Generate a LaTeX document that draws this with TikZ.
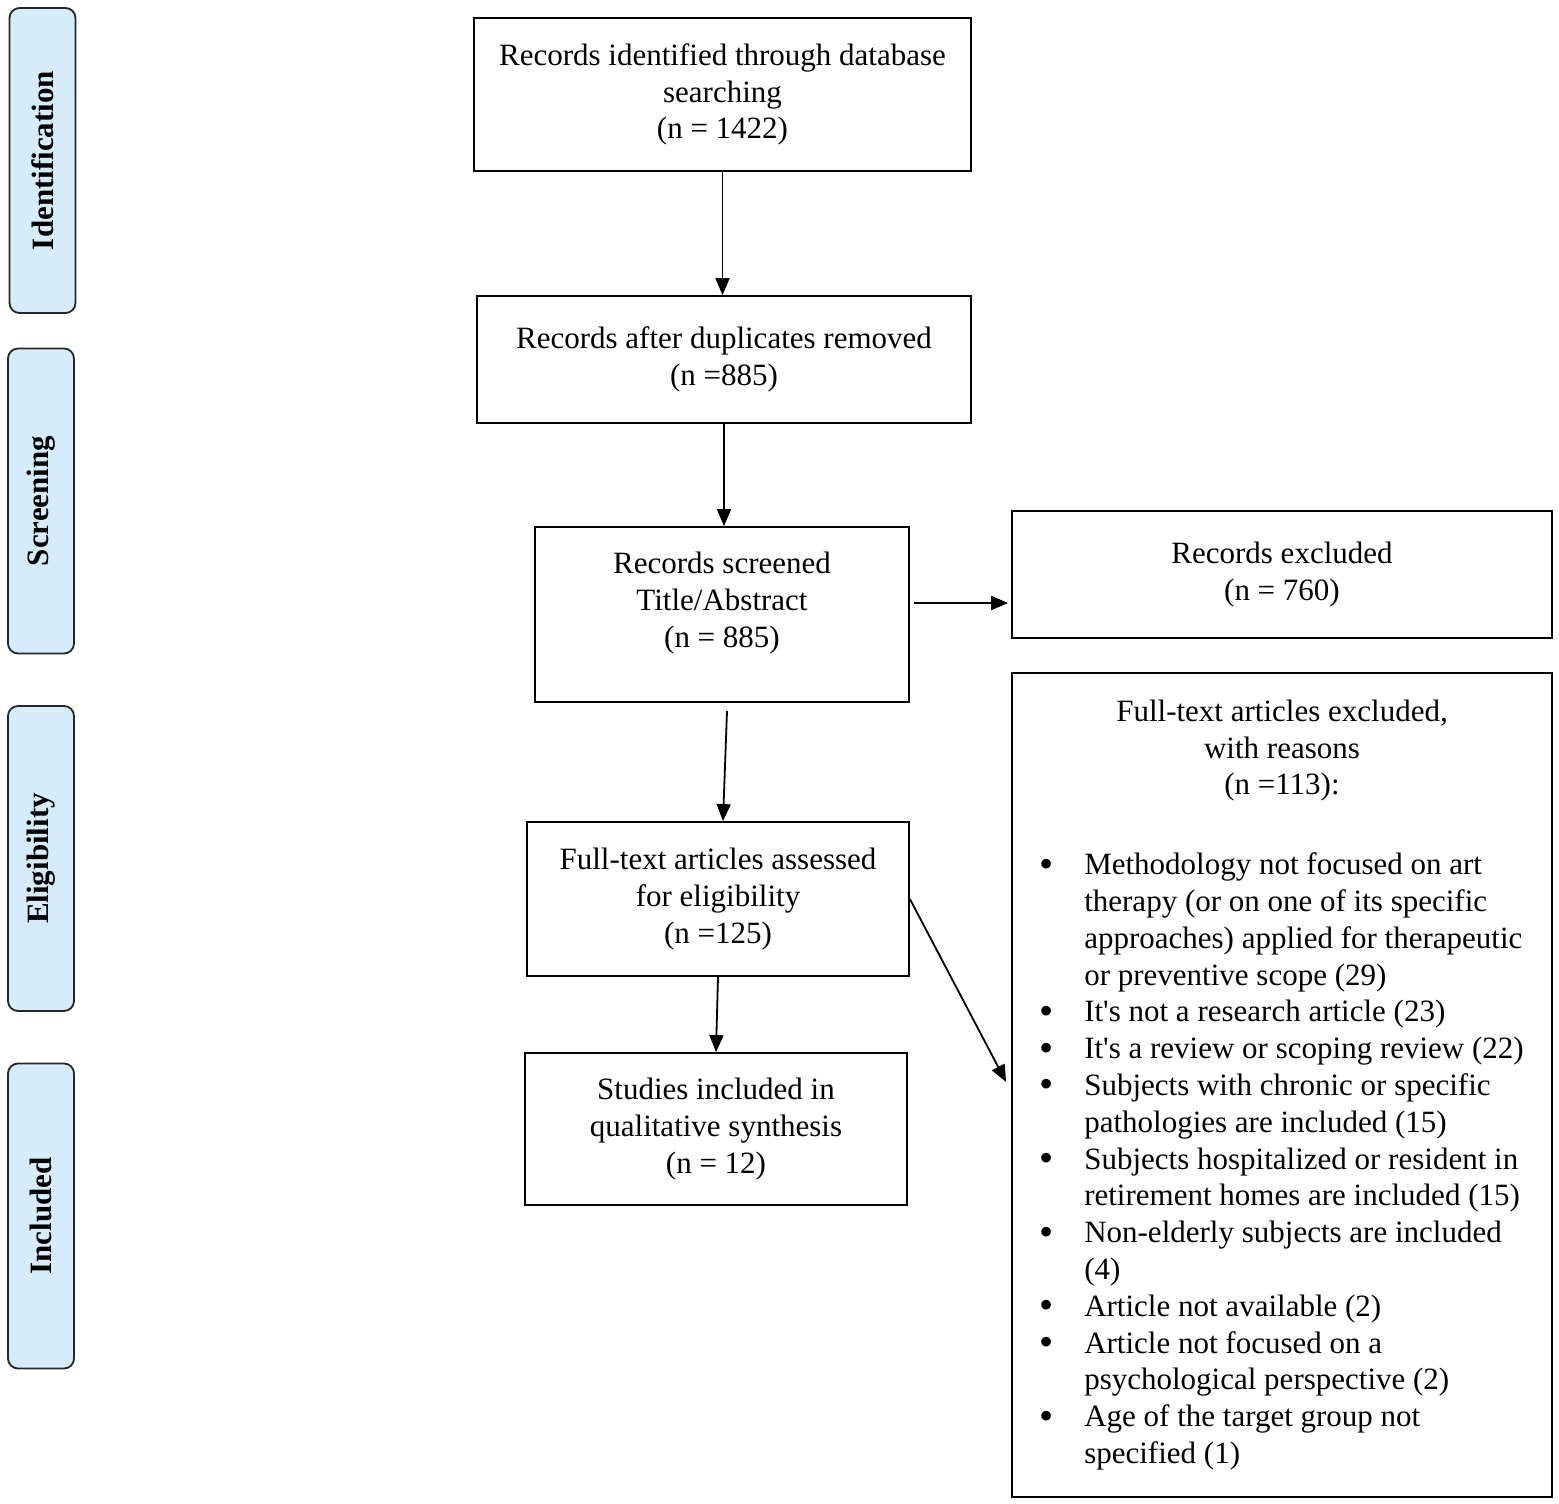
\documentclass[tikz,border=0pt]{standalone}
\usepackage{fontspec}
\setmainfont{Liberation Serif}
\usetikzlibrary{arrows.meta}
\definecolor{phaseblue}{RGB}{214,236,251}
\newcommand{\bul}{\hspace*{5pt}\raisebox{-2.5pt}{\scalebox{1.3}{\textbullet}}}
\begin{document}
\begin{tikzpicture}[x=1pt,y=-1pt,
  every node/.style={font=\fontsize{31}{36.8}\selectfont},
  box/.style={draw, line width=1.8pt, align=center, inner sep=0pt},
  phase/.style={draw=black!85, line width=1.8pt, rounded corners=10pt, fill=phaseblue,
    rotate=90, minimum width=305pt, minimum height=66pt, inner sep=0pt,
    font=\fontsize{31}{36}\selectfont\bfseries},
  arr/.style={line width=1.8pt, -{Triangle[length=17pt,width=14pt]}}]
\useasboundingbox (0,0) rectangle (1559,1504);

% phase labels
\node[phase] (pid) at (42.5,160.5) {Identification};
\node[phase] (psc) at (41,501) {Screening};
\node[phase] (pel) at (41,858.5) {Eligibility};
\node[phase] (pin) at (41,1216) {Included};

% main boxes
\node[box, minimum width=497pt, minimum height=153pt] (b1) at (722.5,94.5)
  {Records identified through database\\searching\\(n = 1422)};
\node[box, minimum width=494pt, minimum height=127pt] (b2) at (724,359.5)
  {Records after duplicates removed\\(n =885)};
\node[box, minimum width=374pt, minimum height=175pt] (b3) at (722,614.5)
  {Records screened\\Title/Abstract\\(n = 885)\rule[-30pt]{0pt}{1pt}};
\node[box, minimum width=382pt, minimum height=154pt] (b4) at (718,899)
  {Full-text articles assessed\\for eligibility\\(n =125)};
\node[box, minimum width=382pt, minimum height=152pt] (b5) at (716,1129)
  {Studies included in\\qualitative synthesis\\(n = 12)};

% exclusion boxes
\node[box, minimum width=540pt, minimum height=127pt] (ex1) at (1282,574.5)
  {Records excluded\\(n = 760)};
\node[box, minimum width=540pt, minimum height=824pt] (ex2) at (1282,1085) {%
  \begin{tabular}{@{}p{50pt}@{}l@{\hspace{6pt}}}
  \multicolumn{2}{@{}c@{}}{Full-text articles excluded,}\\
  \multicolumn{2}{@{}c@{}}{with reasons}\\
  \multicolumn{2}{@{}c@{}}{(n =113):}\\[43pt]
  \bul & Methodology not focused on art\\
  & therapy (or on one of its specific\\
  & approaches) applied for therapeutic\\
  & or preventive scope (29)\\
  \bul & It\textquotesingle s not a research article (23)\\
  \bul & It\textquotesingle s a review or scoping review (22)\\
  \bul & Subjects with chronic or specific\\
  & pathologies are included (15)\\
  \bul & Subjects hospitalized or resident in\\
  & retirement homes are included (15)\\
  \bul & Non-elderly subjects are included\\
  & (4)\\
  \bul & Article not available (2)\\
  \bul & Article not focused on a\\
  & psychological perspective (2)\\
  \bul & Age of the target group not\\
  & specified (1)
  \end{tabular}};

% connectors
\draw[arr] (b1.south) -- (b1.south |- b2.north);
\draw[arr] (b2.south) -- (b2.south |- b3.north);
\draw[arr] ([xshift=4pt,yshift=11.5pt]b3.east) -- ([xshift=-3pt,yshift=-28.5pt]ex1.west);
\draw[arr] ([xshift=5pt,yshift=-8pt]b3.south) -- ([xshift=5pt]b4.north);
\draw[arr] (b4.south) -- (b5.north);
\draw[arr] (b4.east) -- ([xshift=-5pt,yshift=3pt]ex2.west);
\end{tikzpicture}
\end{document}
